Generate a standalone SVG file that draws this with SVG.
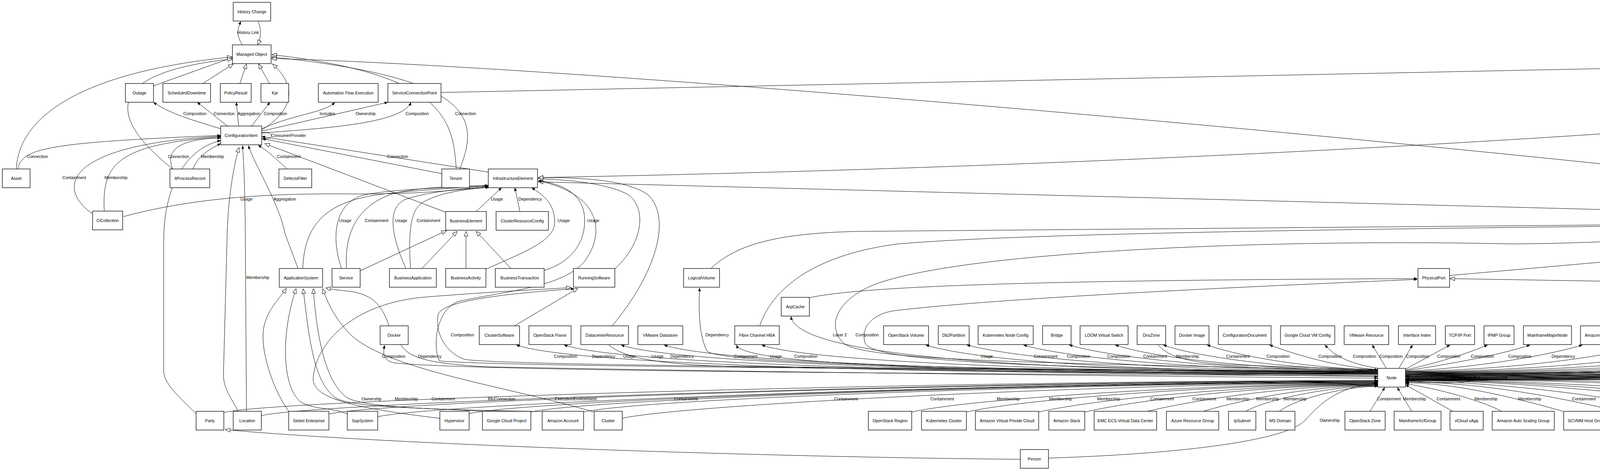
<svg xmlns="http://www.w3.org/2000/svg" width="6604" height="1207" viewBox="0 0 6604 1207">
<style>
.n rect{fill:#fff;stroke:#000;stroke-width:1.3}
.n text,.l{font-family:"Liberation Sans",Arial,sans-serif;font-size:10.7px;text-anchor:middle;fill:#000}
.e{fill:none;stroke:#000;stroke-width:1}
.a{marker-end:url(#a)}
.g{marker-end:url(#g)}
#sa rect{fill:#dcdcf8}
</style>
<defs>
<marker id="a" markerWidth="9" markerHeight="7" refX="8.5" refY="3.5" orient="auto" markerUnits="userSpaceOnUse"><path d="M0,0 L9,3.5 L0,7 z" fill="#000"/></marker>
<marker id="g" markerWidth="14" markerHeight="11" refX="13" refY="5.5" orient="auto" markerUnits="userSpaceOnUse"><path d="M1,0.5 L13,5.5 L1,10.5 z" fill="#fff" stroke="#000" stroke-width="1"/></marker>
</defs>
<rect width="6604" height="1207" fill="#fff"/>
<g id="connectors">
<!-- upper left -->
<path class="e a" d="M621,115 C606,95 606,75 617,55"/>
<path class="e g" d="M660,54 C670,75 668,95 660,115"/>
<path class="e g" d="M393,220 L596,147"/>
<path class="e g" d="M519,214 L597,164"/>
<path class="e g" d="M614,214 L631,164"/>
<path class="e g" d="M690,214 L662,164"/>
<path class="e g" d="M670,333 C740,290 770,230 698,164"/>
<path class="e g" d="M42,433 C45,330 150,190 594,146"/>
<path class="e g" d="M442,433 C300,320 230,190 595,151"/>
<path class="e a" d="M565,330 C500,310 430,290 393,262"/>
<path class="e a" d="M582,323 L505,262"/>
<path class="e a" d="M611,323 L605,262"/>
<path class="e a" d="M644,323 L691,262"/>
<path class="e a" d="M670,330 C760,290 830,290 857,262"/>
<path class="e a" d="M670,336 L993,262"/>
<path class="e a" d="M670,341 C800,330 1030,320 1052,262"/>
<path class="e a" d="M670,340 C702,336 705,358 672,356"/>
<path class="e a" d="M46,433 C55,380 120,365 565,347"/>
<path class="e a" d="M236,547 C140,480 170,370 565,349"/>
<path class="e a" d="M267,541 C260,420 300,370 565,351"/>
<path class="e a" d="M442,433 C420,380 470,355 565,354"/>
<path class="e a" d="M494,433 C505,400 540,380 565,368"/>
<path class="e a" d="M735,433 C710,410 690,390 661,372"/>
<path class="e g" d="M1141,544 L678,368"/>
<path class="e a" d="M1131,445 L670,355"/>
<path class="e a" d="M1250,441 L670,350"/>
<path class="e g" d="M1168,433 C1160,300 1130,190 696,140"/>
<path class="e g" d="M1177,433 C1230,300 1210,200 696,146"/>
<path class="e g" d="M5801,617 C4000,380 1500,170 695,150"/>
<path class="e g" d="M1129,237 L5847,140"/>
<path class="e g" d="M5866,163 C5200,290 3300,420 1378,455"/>
<path class="e g" d="M5217,566 L1378,466"/>
<path class="e a" d="M763,688 L730,600 C715,520 650,420 636,373"/>
<path class="e g" d="M610,1054 C585,1010 572,990 572,960 L581,620 C583,500 600,420 612,378"/>
<path class="e a" d="M631,1054 L628,600 C627,480 624,420 621,373"/>
<path class="e a" d="M502,1060 C450,1010 419,980 419,950 L419,620 C419,470 480,380 565,360"/>
<path class="e a" d="M874,688 C845,600 860,520 930,500 C1000,485 1150,480 1250,477"/>
<path class="e a" d="M887,688 C880,580 930,520 1010,495 C1100,475 1200,478 1250,475"/>
<path class="e a" d="M1039,688 C1000,600 990,530 1040,510 C1100,490 1200,482 1250,479"/>
<path class="e a" d="M1051,688 C1045,600 1050,540 1080,520 C1130,490 1200,485 1252,480"/>
<path class="e a" d="M775,688 C780,560 850,510 1000,495 C1100,485 1200,480 1250,476"/>
<path class="e a" d="M316,555 C500,505 700,495 900,497 C1050,498 1150,490 1250,478"/>
<path class="e a" d="M1219,542 L1284,481"/>
<path class="e a" d="M1331,542 L1318,481"/>
<path class="e g" d="M922,694 L1143,591"/>
<path class="e g" d="M1080,688 L1170,593"/>
<path class="e g" d="M1193,688 L1193,593"/>
<path class="e g" d="M1308,688 L1219,593"/>
<path class="e a" d="M1244,690 C1330,650 1420,620 1420,570 C1420,520 1390,500 1361,481"/>
<path class="e a" d="M1393,693 C1470,670 1505,610 1495,545 C1485,490 1430,470 1378,463"/>
<path class="e g" d="M1574,689 C1640,630 1660,540 1610,500 C1560,470 1450,460 1378,458"/>
<path class="e g" d="M1567,835 C1680,700 1720,560 1660,500 C1600,455 1450,455 1378,455"/>
<path class="e a" d="M3527,953 C2400,946 1300,940 1125,925 C1105,880 1120,790 1175,772 C1300,745 1450,735 1500,665 C1545,600 1545,500 1378,463"/>
<path class="e g" d="M1126,1072 C900,1045 795,1020 802,966 C810,880 900,780 1080,762 C1250,748 1380,742 1462,737"/>
<path class="e a" d="M3527,952 C2500,945 1300,938 1190,921 C1140,905 1112,850 1122,805 C1135,770 1300,752 1470,740"/>
<path class="e g" d="M1317,835 L1479,739"/>
<path class="e g" d="M739,1054 C700,1000 665,900 675,840 C685,790 720,760 733,739"/>
<path class="e g" d="M891,1062 C860,1045 800,1050 770,1030 C720,990 720,850 758,740"/>
<path class="e g" d="M996,835 C980,790 960,750 880,745 C860,743 845,740 834,738"/>
<path class="e g" d="M1521,1056 C1300,990 1000,950 900,860 C860,820 840,780 826,740"/>
<path class="e g" d="M1237,1054 C1100,1045 900,1045 860,1020 C800,980 790,850 776,740"/>
<path class="e g" d="M1390,1055 C1200,1050 950,1050 890,1020 C830,980 810,850 802,740"/>
<path class="e g" d="M2612,1177 C2000,1172 1000,1140 577,1101"/>
<!-- to NodeElement / PhysicalPort -->
<path class="e g" d="M1819,689 C1880,630 1980,597 2200,593 L5207,567"/>
<path class="e g" d="M1945,835 C1980,730 2100,650 2300,625 C2600,600 3300,585 5207,570"/>
<path class="e g" d="M3711,706 L5207,574"/>
<path class="e a" d="M2072,763 C2200,735 2600,718 3628,714"/>
<path class="e a" d="M3527,950 C2800,930 2220,930 2160,880 C2110,830 2150,760 2250,725 C2500,640 3300,612 3861,625 C4100,625 4400,604 5207,569"/>
<path class="e a" d="M3527,956 C2800,942 2240,935 2215,880 C2200,835 2240,800 2300,795 C2600,760 3300,730 3628,716"/>
<path class="e g" d="M6334,839 C6000,770 5800,750 5500,744 L3712,714"/>
<path class="e g" d="M5222,762 L5252,594"/>
<path class="e g" d="M5287,835 L5263,594"/>
<path class="e g" d="M5669,835 C5620,740 5560,640 5304,582"/>
<path class="e g" d="M5715,762 C5680,700 5620,640 5550,610 C5450,590 5350,578 5304,574"/>
<path class="e g" d="M5553,835 L5500,739"/>
<path class="e a" d="M6540,944 C6545,850 6530,720 6450,680 C6300,630 5800,590 5304,570"/>
<path class="e g" d="M5627,1075 C6000,1060 6380,1010 6440,930 C6490,860 6440,760 6310,700 C6100,670 5700,640 5304,578"/>
<path class="e g" d="M6131,1061 C6250,1000 6300,920 6270,860 C6240,800 6200,760 6168,740"/>
<path class="e g" d="M6096,835 L6120,738"/>
<path class="e g" d="M6527,944 C6500,860 6380,790 6167,722"/>
<path class="e a" d="M6488,944 L6413,884"/>
<path class="e a" style="stroke-width:1.8" d="M6533,1054 L6533,993"/>
<path class="e g" d="M5996,762 C6040,720 6054,680 6054,640 L6054,240 C6054,200 6020,175 5983,158"/>
<path class="e g" d="M6204,835 L6204,230 C6204,190 6100,165 5983,148"/>
<!-- Node to row I left -->
<path class="e a" d="M3527,963 C2300,958 1200,950 1010,930 C985,925 978,910 985,885"/>
<path class="e a" d="M1026,883 C1045,915 1090,932 1250,940 C2000,955 3000,965 3527,969"/>
<path class="e a" d="M3527,960 C2200,958 1450,930 1322,884"/>
<path class="e a" d="M3527,959 C2300,956 1570,928 1444,884"/>
<path class="e a" d="M3527,958 C2400,955 1710,927 1590,884"/>
<path class="e a" d="M1559,884 C1600,920 1700,935 1900,940 C2500,950 3100,960 3527,965"/>
<path class="e a" d="M3527,957 C2500,954 1820,926 1700,884"/>
<path class="e a" d="M3527,956 C2700,953 2060,925 1950,884"/>
<path class="e a" d="M3527,957 C2600,955 1900,940 1886,884"/>
<path class="e a" d="M3527,955 C2700,952 2040,920 2025,811"/>
<path class="e a" d="M3527,955 C2600,948 1850,935 1810,900 C1790,860 1788,800 1791,738"/>
<path class="e a" d="M3527,954 C2900,952 2500,925 2370,884"/>
<path class="e a" d="M3527,953 C3000,950 2620,922 2475,884"/>
<path class="e a" d="M3527,952 C3100,949 2740,920 2620,884"/>
<path class="e a" d="M3527,951 C3150,948 2850,918 2737,884"/>
<path class="e a" d="M3527,950 C3200,946 2950,916 2855,884"/>
<path class="e a" d="M3527,949 C3280,944 3060,914 2978,884"/>
<path class="e a" d="M2965,884 C2990,915 3050,930 3150,935 C3300,940 3450,945 3527,947"/>
<path class="e a" d="M3527,948 C3330,942 3170,912 3090,884"/>
<path class="e a" d="M3527,947 C3420,940 3320,910 3250,884"/>
<path class="e a" d="M3530,944 Q3430,930 3392,884"/>
<path class="e a" d="M3549,944 L3513,884"/>
<!-- Node to row I right -->
<path class="e a" d="M3581,944 L3616,884"/>
<path class="e a" d="M3598,946 L3712,884"/>
<path class="e a" d="M3598,948 C3680,930 3760,905 3808,884"/>
<path class="e a" d="M3598,950 C3700,935 3840,910 3917,884"/>
<path class="e a" d="M3598,951 C3750,945 3950,915 4051,884"/>
<path class="e a" d="M3598,952 C3850,948 4100,918 4210,884"/>
<path class="e a" d="M3598,953 C3950,950 4240,920 4356,884"/>
<path class="e a" d="M3598,954 C4050,951 4380,921 4495,884"/>
<path class="e a" d="M3598,955 C4150,952 4510,922 4625,884"/>
<path class="e a" d="M3598,956 C4250,953 4650,924 4766,884"/>
<path class="e a" d="M3598,957 C4300,955 4720,935 4775,884"/>
<path class="e a" d="M3598,958 C4350,955 4760,925 4862,884"/>
<path class="e a" d="M3598,959 C4450,956 4860,926 4959,884"/>
<path class="e a" d="M3598,960 C4550,957 4950,927 5055,884"/>
<path class="e a" d="M3598,961 C4600,955 5200,930 5217,811"/>
<path class="e a" d="M3598,962 C4700,958 5150,930 5254,880"/>
<path class="e a" d="M3598,963 C4750,959 5200,935 5256,886"/>
<path class="e a" d="M3598,964 C4800,960 5260,935 5279,884"/>
<path class="e a" d="M3598,960 C4500,948 5330,945 5365,880 C5390,820 5330,680 5277,592"/>
<path class="e a" d="M5473,737 C5440,830 5400,920 5330,930 C4500,950 3800,960 3598,965"/>
<path class="e a" d="M3598,965 C4900,960 5420,930 5511,883"/>
<path class="e a" d="M3598,966 C4950,962 5560,930 5648,880"/>
<path class="e a" d="M3598,967 C5000,963 5600,935 5650,882"/>
<path class="e a" d="M3598,968 C5050,964 5660,935 5680,884"/>
<path class="e a" d="M3598,969 C5100,965 5760,940 5738,811"/>
<path class="e a" d="M3598,970 C5200,966 5830,930 5845,665"/>
<path class="e a" d="M3598,971 C5300,967 5940,930 5968,811"/>
<path class="e a" d="M3598,972 C5400,968 5980,940 6074,884"/>
<path class="e a" d="M3598,973 C5500,969 6100,940 6176,884"/>
<path class="e a" d="M3598,974 C5600,970 6220,950 6217,884"/>
<path class="e a" d="M3598,975 C5000,970 5850,960 5895,915 C5915,890 5915,860 5915,830 L5915,164"/>
<path class="e a" d="M6111,737 C6060,820 6010,905 5950,915 C5400,950 4000,970 3598,976"/>
<path class="e" d="M3598,962 C3700,950 3780,955 3780,968 C3780,981 3700,986 3598,975"/>
<path class="e" d="M3598,966 C3700,958 3860,960 3860,968 C3860,976 3700,980 3598,971"/>
<!-- row K to Node -->
<path class="e a" d="M573,1057 C723,1022 2493,975 3527,975"/>
<path class="e a" d="M669,1065 C819,1030 2527,976 3527,976"/>
<path class="e a" d="M842,1061 C992,1026 2587,977 3527,977"/>
<path class="e a" d="M967,1068 C1117,1033 2631,978 3527,978"/>
<path class="e a" d="M1201,1060 C1351,1025 2713,979 3527,979"/>
<path class="e a" d="M1359,1056 C1509,1021 2768,980 3527,980"/>
<path class="e a" d="M1494,1056 C1644,1021 2815,981 3527,981"/>
<path class="e a" d="M1593,1072 C1743,1037 2850,982 3527,982"/>
<path class="e a" d="M2334,1056 C2484,1021 3110,983 3527,983"/>
<path class="e a" d="M2474,1056 C2624,1021 3158,984 3527,984"/>
<path class="e a" d="M2659,1056 C2809,1021 3223,985 3527,985"/>
<path class="e a" d="M2777,1056 C2927,1021 3265,986 3527,986"/>
<path class="e a" d="M2937,1054 C3087,1019 3320,987 3527,987"/>
<path class="e a" d="M3080,1054 C3200,1019 3370,988 3527,988"/>
<path class="e a" d="M3189,1054 C3250,1020 3420,989 3527,989"/>
<path class="e a" d="M3275,1054 C3320,1020 3450,990 3527,990"/>
<path class="e a" d="M2684,1174 C3100,1160 3300,1120 3340,1078 C3380,1035 3420,992 3525,982"/>
<path class="e a" d="M3507,1054 L3545,993"/>
<path class="e a" d="M3614,1054 L3577,993"/>
<path class="e a" d="M3719,1054 L3598,986"/>
<path class="e a" d="M3844,1054 C3800,1030 3700,1000 3598,983"/>
<path class="e a" d="M4001,1054 C3900,1025 3730,981 3598,981"/>
<path class="e a" d="M4142,1054 C4000,1020 3790,979 3598,979"/>
<path class="e a" d="M4293,1054 C4150,1020 3840,977 3598,977"/>
<path class="e a" d="M4488,1056 C4340,1022 3910,975 3598,975"/>
<path class="e a" d="M4624,1056 C4470,1022 3960,974 3598,974"/>
<path class="e a" d="M4779,1054 C4630,1020 4010,973 3598,973"/>
<path class="e a" d="M5438,1070 C5200,1030 4240,972 3598,972"/>
<path class="e a" d="M6059,1077 C5800,1040 4460,971 3598,971"/>
</g>
<g id="labels">
<text class="l" x="635" y="87">History Link</text>
<text class="l" x="499" y="295">Composition</text>
<text class="l" x="574" y="295">Connection</text>
<text class="l" x="637" y="295">Aggregation</text>
<text class="l" x="705" y="295">Composition</text>
<text class="l" x="838" y="295">Includes</text>
<text class="l" x="936" y="295">Ownership</text>
<text class="l" x="1068" y="295">Composition</text>
<text class="l" x="1192" y="295">Connection</text>
<text class="l" x="694" y="351" style="text-anchor:start">ConsumerProvider</text>
<text class="l" x="96" y="405">Connection</text>
<text class="l" x="457" y="405">Connection</text>
<text class="l" x="544" y="405">Membership</text>
<text class="l" x="739" y="405">Containment</text>
<text class="l" x="1018" y="405">Connection</text>
<text class="l" x="190" y="459">Containment</text>
<text class="l" x="297" y="459">Membership</text>
<text class="l" x="631" y="514">Usage</text>
<text class="l" x="729" y="514">Aggregation</text>
<text class="l" x="1272" y="514">Usage</text>
<text class="l" x="1357" y="514">Dependency</text>
<text class="l" x="884" y="569">Usage</text>
<text class="l" x="964" y="569">Containment</text>
<text class="l" x="1027" y="569">Usage</text>
<text class="l" x="1097" y="569">Containment</text>
<text class="l" x="1443" y="569">Usage</text>
<text class="l" x="1519" y="569">Usage</text>
<text class="l" x="660" y="715">Membership</text>
<text class="l" x="1184" y="862">Composition</text>
<text class="l" x="1836" y="862">Dependency</text>
<text class="l" x="2150" y="862">Layer 2</text>
<text class="l" x="2220" y="862">Composition</text>
<text class="l" x="5398" y="789">Composition</text>
<text class="l" x="5462" y="862">Containment</text>
<text class="l" x="5858" y="862">Composition</text>
<text class="l" x="5943" y="514">Composition</text>
<text class="l" x="6568" y="789">Composition</text>
<text class="l" x="6552" y="1026">Manage</text>
<text class="l" x="3404" y="1081">Ownership</text>
<g transform="translate(0,917)">
<text class="l" x="1008">Composition</text>
<text class="l" x="1100">Dependency</text>
<text class="l" x="1448">Composition</text>
<text class="l" x="1545">Dependency</text>
<text class="l" x="1611">Usage</text>
<text class="l" x="1683">Usage</text>
<text class="l" x="1746">Dependency</text>
<text class="l" x="1909">Containment</text>
<text class="l" x="1986">Usage</text>
<text class="l" x="2063">Composition</text>
<text class="l" x="2526">Usage</text>
<text class="l" x="2677">Containment</text>
<text class="l" x="2761">Composition</text>
<text class="l" x="2864">Composition</text>
<text class="l" x="2957">Containment</text>
<text class="l" x="3040">Membership</text>
<text class="l" x="3169">Containment</text>
<text class="l" x="3272">Composition</text>
<text class="l" x="3405">Composition</text>
<text class="l" x="3493">Composition</text>
<text class="l" x="3561">Composition</text>
<text class="l" x="3629">Composition</text>
<text class="l" x="3709">Composition</text>
<text class="l" x="3795">Composition</text>
<text class="l" x="3891">Composition</text>
<text class="l" x="4002">Dependency</text>
<text class="l" x="4116">Usage</text>
<text class="l" x="4256">Containment</text>
<text class="l" x="4407">Dependency</text>
<text class="l" x="4531">Usage</text>
<text class="l" x="4664">Containment</text>
<text class="l" x="4744">Virtual</text>
<text class="l" x="4820">Composition</text>
<text class="l" x="4898">Usage</text>
<text class="l" x="4975">Containment</text>
<text class="l" x="5061">Dependency</text>
<text class="l" x="5157">Containment</text>
<text class="l" x="5226">Usage</text>
<text class="l" x="5293">Composition</text>
<text class="l" x="5454">Usage</text>
<text class="l" x="5510">Talk</text>
<text class="l" x="5581">ClientServer</text>
<text class="l" x="5642">Talk</text>
<text class="l" x="5701">ClientServer</text>
<text class="l" x="5774">Containment</text>
<text class="l" x="5954">Composition</text>
<text class="l" x="6080">Containment</text>
<text class="l" x="6169">Composition</text>
<text class="l" x="6248">ClientServer</text>
<text class="l" x="6484">Composition</text>
</g>
<g transform="translate(0,972)">
<text class="l" x="3636">Containment</text>
<text class="l" x="3693">Dependency</text>
<text class="l" x="3745">Membership</text>
<text class="l" x="3782">Talk</text>
<text class="l" x="3826">Unnumbered</text>
</g>
<g transform="translate(0,1026)">
<text class="l" x="951">Ownership</text>
<text class="l" x="1040">Membership</text>
<text class="l" x="1135">Containment</text>
<text class="l" x="1284">RfcConnection</text>
<text class="l" x="1474">ExecutionEnvironment</text>
<text class="l" x="1756">Containment</text>
<text class="l" x="2166">Containment</text>
<text class="l" x="2412">Containment</text>
<text class="l" x="2581">Membership</text>
<text class="l" x="2715">Membership</text>
<text class="l" x="2838">Membership</text>
<text class="l" x="2975">Containment</text>
<text class="l" x="3083">Containment</text>
<text class="l" x="3169">Membership</text>
<text class="l" x="3245">Membership</text>
<text class="l" x="3315">Membership</text>
<text class="l" x="3556">Containment</text>
<text class="l" x="3621">Membership</text>
<text class="l" x="3708">Containment</text>
<text class="l" x="3804">Membership</text>
<text class="l" x="3916">Membership</text>
<text class="l" x="4055">Containment</text>
<text class="l" x="4182">Usage</text>
<text class="l" x="4370">Membership</text>
<text class="l" x="4520">Containment</text>
<text class="l" x="4683">Dependency</text>
<text class="l" x="4929">Containment</text>
<text class="l" x="5240">Containment</text>
</g>
</g>
<g id="nodes">
<g class="n" id="hc"><rect x="597" y="6" width="96" height="48"/><text x="645" y="33.7">History Change</text></g>
<g class="n" id="mo"><rect x="595" y="115" width="99" height="48"/><text x="644.5" y="142.7">Managed Object</text></g>
<g class="n" id="ce"><rect x="5847" y="115" width="135" height="48"/><text x="5914.5" y="142.7">CommunicationEndpoint</text></g>
<g class="n" id="outage"><rect x="321" y="214" width="72" height="48"/><text x="357" y="241.7">Outage</text></g>
<g class="n" id="sdt"><rect x="417" y="214" width="122" height="48"/><text x="478" y="241.7">ScheduledDowntime</text></g>
<g class="n" id="pr"><rect x="564" y="214" width="79" height="48"/><text x="603.5" y="241.7">PolicyResult</text></g>
<g class="n" id="kpi"><rect x="668" y="214" width="71" height="48"/><text x="703.5" y="241.7">Kpi</text></g>
<g class="n" id="afe"><rect x="815" y="214" width="153" height="48"/><text x="891.5" y="241.7">Automation Flow Execution</text></g>
<g class="n" id="scp"><rect x="993" y="214" width="136" height="48"/><text x="1061" y="241.7">ServiceConnectionPoint</text></g>
<g class="n" id="ci"><rect x="565" y="323" width="105" height="48"/><text x="617.5" y="350.7">ConfigurationItem</text></g>
<g class="n" id="asset"><rect x="6" y="433" width="71" height="48"/><text x="41.5" y="460.7">Asset</text></g>
<g class="n" id="ipr"><rect x="435" y="433" width="102" height="48"/><text x="486" y="460.7">ItProcessRecord</text></g>
<g class="n" id="df"><rect x="714" y="433" width="84" height="48"/><text x="756" y="460.7">DefectsFilter</text></g>
<g class="n" id="tenant"><rect x="1131" y="433" width="71" height="48"/><text x="1166.5" y="460.7">Tenant</text></g>
<g class="n" id="ie"><rect x="1250" y="433" width="126" height="48"/><text x="1313" y="460.7">InfrastructureElement</text></g>
<g class="n" id="cic"><rect x="237" y="541" width="77" height="48"/><text x="275.5" y="568.7">CiCollection</text></g>
<g class="n" id="be"><rect x="1141" y="542" width="104" height="48"/><text x="1193" y="569.7">BusinessElement</text></g>
<g class="n" id="crc"><rect x="1270" y="542" width="134" height="48"/><text x="1337" y="569.7">ClusterResourceConfig</text></g>
<g class="n" id="ne"><rect x="5217" y="542" width="84" height="48"/><text x="5259" y="569.7">NodeElement</text></g>
<g class="n" id="che"><rect x="5801" y="615" width="94" height="48"/><text x="5848" y="642.7">CallHomeEvent</text></g>
<g class="n" id="as"><rect x="715" y="688" width="111" height="48"/><text x="770.5" y="715.7">ApplicationSystem</text></g>
<g class="n" id="svc"><rect x="850" y="688" width="72" height="48"/><text x="886" y="715.7">Service</text></g>
<g class="n" id="bapp"><rect x="997" y="688" width="120" height="48"/><text x="1057" y="715.7">BusinessApplication</text></g>
<g class="n" id="bact"><rect x="1141" y="688" width="103" height="48"/><text x="1192.5" y="715.7">BusinessActivity</text></g>
<g class="n" id="bt"><rect x="1268" y="688" width="125" height="48"/><text x="1330.5" y="715.7">BusinessTransaction</text></g>
<g class="n" id="rs"><rect x="1468" y="688" width="106" height="48"/><text x="1521" y="715.7">RunningSoftware</text></g>
<g class="n" id="lv"><rect x="1750" y="688" width="92" height="48"/><text x="1796" y="715.7">LogicalVolume</text></g>
<g class="n" id="pp"><rect x="3630" y="688" width="81" height="48"/><text x="3670.5" y="715.7">PhysicalPort</text></g>
<g class="n" id="rp"><rect x="5437" y="688" width="92" height="48"/><text x="5483" y="715.7">Resource Pool</text></g>
<g class="n" id="nd"><rect x="6091" y="688" width="75" height="48"/><text x="6128.5" y="715.7">Net Device</text></g>
<g class="n" id="arp"><rect x="2000" y="762" width="72" height="48"/><text x="2036" y="789.7">ArpCache</text></g>
<g class="n" id="fse"><rect x="5164" y="762" width="106" height="48"/><text x="5217" y="789.7">FileSystemExport</text></g>
<g class="n" id="scsi"><rect x="5681" y="762" width="87" height="48"/><text x="5724.5" y="789.7">SCSI Adapter</text></g>
<g class="n" id="uri"><rect x="5935" y="762" width="76" height="48"/><text x="5973" y="789.7">UriEndpoint</text></g>
<g class="n" id="docker"><rect x="973" y="835" width="72" height="48"/><text x="1009" y="862.7">Docker</text></g>
<g class="n" id="cs"><rect x="1227" y="835" width="103" height="48"/><text x="1278.5" y="862.7">ClusterSoftware</text></g>
<g class="n" id="osf"><rect x="1354" y="835" width="108" height="48"/><text x="1408" y="862.7">OpenStack Flavor</text></g>
<g class="n" id="dcr"><rect x="1487" y="835" width="122" height="48"/><text x="1548" y="862.7">DatacenterResource</text></g>
<g class="n" id="vmds"><rect x="1633" y="835" width="115" height="48"/><text x="1690.5" y="862.7">VMware Datastore</text></g>
<g class="n" id="fchba"><rect x="1881" y="835" width="114" height="48"/><text x="1938" y="862.7">Fibre Channel HBA</text></g>
<g class="n" id="osv"><rect x="2262" y="835" width="115" height="48"/><text x="2319.5" y="862.7">OpenStack Volume</text></g>
<g class="n" id="db2"><rect x="2402" y="835" width="79" height="48"/><text x="2441.5" y="862.7">Db2Partition</text></g>
<g class="n" id="knc"><rect x="2504" y="835" width="141" height="48"/><text x="2574.5" y="862.7">Kubernetes Node Config</text></g>
<g class="n" id="bridge"><rect x="2669" y="835" width="73" height="48"/><text x="2705.5" y="862.7">Bridge</text></g>
<g class="n" id="ldom"><rect x="2765" y="835" width="123" height="48"/><text x="2826.5" y="862.7">LDOM Virtual Switch</text></g>
<g class="n" id="dns"><rect x="2911" y="835" width="73" height="48"/><text x="2947.5" y="862.7">DnsZone</text></g>
<g class="n" id="dimg"><rect x="3008" y="835" width="87" height="48"/><text x="3051.5" y="862.7">Docker Image</text></g>
<g class="n" id="cdoc"><rect x="3119" y="835" width="135" height="48"/><text x="3186.5" y="862.7">ConfigurationDocument</text></g>
<g class="n" id="gcvm"><rect x="3278" y="835" width="139" height="48"/><text x="3347.5" y="862.7">Google Cloud VM Config</text></g>
<g class="n" id="vmr"><rect x="3441" y="835" width="114" height="48"/><text x="3498" y="862.7">VMware Resource</text></g>
<g class="n" id="ifi"><rect x="3580" y="835" width="95" height="48"/><text x="3627.5" y="862.7">Interface Index</text></g>
<g class="n" id="tcp"><rect x="3700" y="835" width="75" height="48"/><text x="3737.5" y="862.7">TCP/IP Port</text></g>
<g class="n" id="ipmp"><rect x="3799" y="835" width="77" height="48"/><text x="3837.5" y="862.7">IPMP Group</text></g>
<g class="n" id="mmn"><rect x="3900" y="835" width="123" height="48"/><text x="3961.5" y="862.7">MainframeMajorNode</text></g>
<g class="n" id="ami"><rect x="4046" y="835" width="137" height="48"/><text x="4114.5" y="862.7">Amazon Machine Image</text></g>
<g class="n" id="vvd"><rect x="4207" y="835" width="121" height="48"/><text x="4267.5" y="862.7">VMware Virtual Disk</text></g>
<g class="n" id="rhevm"><rect x="4353" y="835" width="115" height="48"/><text x="4410.5" y="862.7">RHEVM DiskDevice</text></g>
<g class="n" id="osi"><rect x="4492" y="835" width="107" height="48"/><text x="4545.5" y="862.7">OpenStack Image</text></g>
<g class="n" id="gci"><rect x="4622" y="835" width="118" height="48"/><text x="4681" y="862.7">Google Cloud Image</text></g>
<g class="n" id="ip"><rect x="4763" y="835" width="73" height="48"/><text x="4799.5" y="862.7">IpAddress</text></g>
<g class="n" id="ospf"><rect x="4859" y="835" width="73" height="48"/><text x="4895.5" y="862.7">OSPF</text></g>
<g class="n" id="cb"><rect x="4956" y="835" width="72" height="48"/><text x="4992" y="862.7">CellBoard</text></g>
<g class="n" id="mxm"><rect x="5052" y="835" width="127" height="48"/><text x="5115.5" y="862.7">MainframeXcfMember</text></g>
<g class="n" id="iface"><rect x="5254" y="835" width="72" height="48"/><text x="5290" y="862.7">Interface</text></g>
<g class="n" id="ibmpp"><rect x="5509" y="835" width="115" height="48"/><text x="5566.5" y="862.7">IBM Processor Pool</text></g>
<g class="n" id="proc"><rect x="5648" y="835" width="72" height="48"/><text x="5684" y="862.7">Process</text></g>
<g class="n" id="chassis"><rect x="6053" y="835" width="72" height="48"/><text x="6089" y="862.7">Chassis</text></g>
<g class="n" id="ipse"><rect x="6150" y="835" width="108" height="48"/><text x="6204" y="862.7">IpServiceEndpoint</text></g>
<g class="n" id="fcp"><rect x="6334" y="835" width="111" height="48"/><text x="6389.5" y="862.7">Fibre Channel Port</text></g>
<g class="n" id="node"><rect x="3527" y="944" width="71" height="48"/><text x="3562.5" y="971.7">Node</text></g>
<g class="n" id="sa"><rect x="6488" y="944" width="90" height="48"/><text x="6533" y="971.7">Storage Array</text></g>
<g class="n" id="party"><rect x="502" y="1054" width="71" height="48"/><text x="537.5" y="1081.7">Party</text></g>
<g class="n" id="loc"><rect x="597" y="1054" width="72" height="48"/><text x="633" y="1081.7">Location</text></g>
<g class="n" id="siebel"><rect x="739" y="1054" width="103" height="48"/><text x="790.5" y="1081.7">Siebel Enterprise</text></g>
<g class="n" id="sap"><rect x="889" y="1054" width="78" height="48"/><text x="928" y="1081.7">SapSystem</text></g>
<g class="n" id="hyp"><rect x="1126" y="1054" width="75" height="48"/><text x="1163.5" y="1081.7">Hypervisor</text></g>
<g class="n" id="gcp"><rect x="1235" y="1054" width="124" height="48"/><text x="1297" y="1081.7">Google Cloud Project</text></g>
<g class="n" id="aacc"><rect x="1388" y="1054" width="106" height="48"/><text x="1441" y="1081.7">Amazon Account</text></g>
<g class="n" id="cluster"><rect x="1521" y="1054" width="72" height="48"/><text x="1557" y="1081.7">Cluster</text></g>
<g class="n" id="osr"><rect x="2223" y="1054" width="111" height="48"/><text x="2278.5" y="1081.7">OpenStack Region</text></g>
<g class="n" id="k8s"><rect x="2359" y="1054" width="115" height="48"/><text x="2416.5" y="1081.7">Kubernetes Cluster</text></g>
<g class="n" id="avpc"><rect x="2497" y="1054" width="162" height="48"/><text x="2578" y="1081.7">Amazon Virtual Private Cloud</text></g>
<g class="n" id="astack"><rect x="2685" y="1054" width="92" height="48"/><text x="2731" y="1081.7">Amazon Stack</text></g>
<g class="n" id="emcvdc"><rect x="2801" y="1054" width="160" height="48"/><text x="2881" y="1081.7">EMC ECS Virtual Data Center</text></g>
<g class="n" id="azrg"><rect x="2986" y="1054" width="134" height="48"/><text x="3053" y="1081.7">Azure Resource Group</text></g>
<g class="n" id="ipsub"><rect x="3145" y="1054" width="70" height="48"/><text x="3180" y="1081.7">IpSubnet</text></g>
<g class="n" id="msd"><rect x="3240" y="1054" width="75" height="48"/><text x="3277.5" y="1081.7">MS Domain</text></g>
<g class="n" id="osz"><rect x="3443" y="1054" width="103" height="48"/><text x="3494.5" y="1081.7">OpenStack Zone</text></g>
<g class="n" id="mxg"><rect x="3569" y="1054" width="120" height="48"/><text x="3629" y="1081.7">MainframeXcfGroup</text></g>
<g class="n" id="vapp"><rect x="3712" y="1054" width="85" height="48"/><text x="3754.5" y="1081.7">vCloud vApp</text></g>
<g class="n" id="aasg"><rect x="3820" y="1054" width="159" height="48"/><text x="3899.5" y="1081.7">Amazon Auto Scaling Group</text></g>
<g class="n" id="scvmm"><rect x="4003" y="1054" width="118" height="48"/><text x="4062" y="1081.7">SCVMM Host Group</text></g>
<g class="n" id="aecs"><rect x="4147" y="1054" width="122" height="48"/><text x="4208" y="1081.7">Amazon ECS Cluster</text></g>
<g class="n" id="gcsa"><rect x="4293" y="1054" width="171" height="48"/><text x="4378.5" y="1081.7">Google Cloud Service Account</text></g>
<g class="n" id="msys"><rect x="4488" y="1054" width="111" height="48"/><text x="4543.5" y="1081.7">MainframeSysplex</text></g>
<g class="n" id="emcsp"><rect x="4624" y="1054" width="130" height="48"/><text x="4689" y="1081.7">EMC ECS Storage Pool</text></g>
<g class="n" id="aecst"><rect x="4779" y="1054" width="111" height="48"/><text x="4834.5" y="1081.7">Amazon ECS Task</text></g>
<g class="n" id="nadg"><rect x="5438" y="1054" width="189" height="48"/><text x="5532.5" y="1081.7">Network Automation Device Group</text></g>
<g class="n" id="rack"><rect x="6059" y="1054" width="72" height="48"/><text x="6095" y="1081.7">Rack</text></g>
<g class="n" id="ibmfsm"><rect x="6497" y="1054" width="72" height="48"/><text x="6533" y="1081.7">IBM FSM</text></g>
<g class="n" id="person"><rect x="2612" y="1152" width="72" height="48"/><text x="2648" y="1179.7">Person</text></g>
</g>
</svg>
